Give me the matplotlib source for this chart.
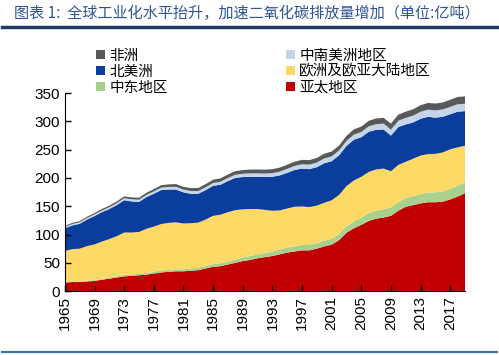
import numpy as np
import matplotlib.pyplot as plt
from matplotlib.lines import Line2D

plt.rcParams['font.family'] = ['Noto Sans CJK SC', 'DejaVu Sans']

years = np.arange(1965, 2020)

# 单位: 亿吨, 各地区排放量
asia_pacific = [15, 16, 16, 17, 18, 20, 22, 24, 26, 27,
                28, 29, 31, 33, 34, 35, 35, 36, 37, 40,
                43, 44, 47, 50, 53, 55, 58, 60, 62, 65,
                68, 70, 72, 72, 75, 79, 82, 90, 103, 111,
                117, 124, 128, 130, 133, 142, 149, 152, 155, 157,
                157, 158, 162, 167, 173]
middle_east = [1, 1, 1, 1.5, 1.5, 1.5, 2, 2, 2.5, 2.5,
               2.5, 3, 3, 3.5, 3.5, 3.5, 3.5, 4, 4, 4.5,
               5, 5, 5.5, 6, 6.5, 7, 7, 7.5, 8, 8.5,
               9, 9, 9.5, 9.5, 10, 10, 10.5, 11, 11.5, 12.5,
               13, 13.5, 14, 14.5, 14.8, 15, 15.5, 16, 16.5, 17,
               17.5, 18, 18.5, 19, 20]
europe = [55, 57, 58, 61, 63, 66, 68, 71, 75, 74,
          74, 78, 80, 82, 83, 83, 81, 80, 80, 82,
          85, 86, 87, 87, 85, 83, 80, 76, 72, 69,
          69, 70, 68, 67, 66, 67, 68, 69, 71, 72,
          72, 73, 73, 72, 64, 66, 64, 66, 68, 68,
          68, 69, 70, 68, 64]
north_america = [40, 42, 44, 47, 50, 52, 53, 55, 57, 55,
                 53, 56, 58, 60, 59, 58, 55, 52, 51, 52,
                 53, 53, 55, 57, 57, 57, 57, 58, 60, 62,
                 63, 65, 67, 67, 68, 70, 69, 70, 71, 72,
                 70, 71, 70, 69, 63, 67, 66, 64, 65, 66,
                 64, 63, 62, 63, 61]
latin_america = [2.5, 2.5, 2.7, 2.8, 3, 3, 3.2, 3.4, 3.6, 3.8,
                 4, 4, 4.2, 4.4, 4.6, 4.8, 4.8, 4.8, 4.8, 5,
                 5, 5.2, 5.4, 5.6, 5.8, 6, 6, 6.2, 6.4, 6.6,
                 7, 7.2, 7.6, 8, 8.2, 8.4, 8.6, 8.6, 8.8, 9,
                 9.2, 9.6, 10, 10.4, 10.6, 11, 11.6, 12, 12.4, 12.6,
                 12.8, 13, 13, 13.2, 13]
africa = [2, 2, 2.1, 2.2, 2.4, 2.6, 2.8, 3, 3.2, 3.3,
          3.5, 3.7, 4, 4.2, 4.5, 4.8, 5, 5.2, 5.4, 5.6,
          5.8, 6, 6.1, 6.3, 6.5, 6.7, 6.8, 6.9, 7, 7.1,
          7.3, 7.5, 7.8, 7.9, 8.1, 8.3, 8.5, 8.6, 8.9, 9.3,
          9.5, 9.8, 10, 10.3, 10.5, 10.8, 11, 11.3, 11.6, 11.8,
          12.1, 12.3, 12.6, 12.8, 13]

labels = ['亚太地区', '中东地区', '欧洲及欧亚大陆地区', '北美洲', '中南美洲地区', '非洲']
colors = ['#c00000', '#a9d18e', '#ffd966', '#0b3d9c', '#c5d5ea', '#595959']

fig = plt.figure(figsize=(4.99, 3.55), dpi=100)
ax = fig.add_axes([0.130, 0.180, 0.802, 0.558])

polys = ax.stackplot(years, asia_pacific, middle_east, europe, north_america,
                     latin_america, africa, colors=colors, labels=labels, lw=0)

ax.set_xlim(1965, 2019)
ax.set_ylim(0, 350)
ax.set_yticks(range(0, 351, 50))
ax.set_xticks(range(1965, 2018, 4))
ax.set_xticklabels([str(y) for y in range(1965, 2018, 4)], rotation=90,
                   family='Liberation Sans', fontsize=11)
ax.set_yticklabels([str(v) for v in range(0, 351, 50)],
                   family='Liberation Sans', fontsize=11)
ax.tick_params(direction='in', length=4, width=1, color='black')
ax.spines['top'].set_visible(False)
ax.spines['right'].set_visible(False)
ax.set_axisbelow(False)

# 图例: 两列, 顺序与原图一致
order = [5, 3, 1, 4, 2, 0]
fig.legend([polys[i] for i in order], [labels[i] for i in order],
           loc='upper left', bbox_to_anchor=(0.193, 0.862), ncol=2,
           frameon=False, fontsize=10.5, handlelength=0.6, handleheight=0.6,
           handletextpad=0.3, labelspacing=0.12, columnspacing=8.1,
           borderpad=0, borderaxespad=0)

fig.text(0.028, 0.962, '图表 1:  全球工业化水平抬升，加速二氧化碳排放量增加（单位:亿吨）',
         fontsize=10.9, color='#2f5496', style='italic', va='center', ha='left')
fig.add_artist(Line2D([0.005, 0.995], [0.923, 0.923], color='#1f3864', lw=2.5))
fig.add_artist(Line2D([0.005, 0.995], [0.008, 0.008], color='#2e75b6', lw=1.5))

fig.savefig('out.png', dpi=100)
